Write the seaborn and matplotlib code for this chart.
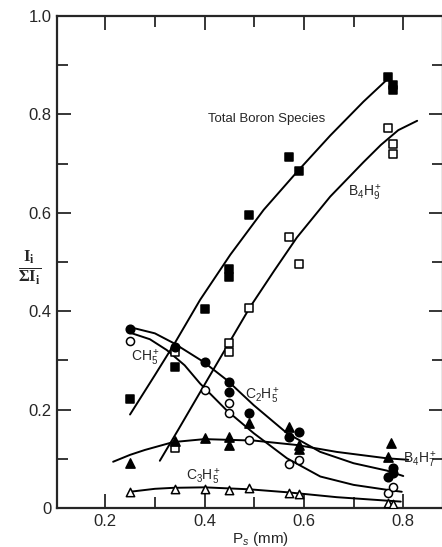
import matplotlib
matplotlib.use("Agg")
import matplotlib.pyplot as plt
import seaborn as sns
from matplotlib.ticker import FixedLocator

# ---- measured points ----
total_x = [0.25, 0.34, 0.40, 0.45, 0.45, 0.49, 0.57, 0.59, 0.77, 0.78, 0.78]
total_y = [0.222, 0.287, 0.404, 0.47, 0.485, 0.596, 0.714, 0.685, 0.876, 0.86, 0.85]

b4h9_x = [0.34, 0.34, 0.45, 0.45, 0.49, 0.57, 0.59, 0.77, 0.78, 0.78]
b4h9_y = [0.122, 0.317, 0.335, 0.317, 0.406, 0.551, 0.496, 0.773, 0.74, 0.72]

ch5_x = [0.25, 0.40, 0.45, 0.45, 0.49, 0.57, 0.59, 0.77, 0.78]
ch5_y = [0.34, 0.24, 0.213, 0.193, 0.138, 0.089, 0.098, 0.03, 0.043]

c2h5_x = [0.25, 0.34, 0.40, 0.45, 0.45, 0.49, 0.57, 0.59, 0.77, 0.78, 0.78]
c2h5_y = [0.364, 0.327, 0.296, 0.256, 0.236, 0.193, 0.144, 0.155, 0.063, 0.081, 0.071]

b4h7_x = [0.25, 0.34, 0.40, 0.45, 0.45, 0.49, 0.57, 0.59, 0.59, 0.77, 0.775]
b4h7_y = [0.091, 0.136, 0.142, 0.144, 0.128, 0.173, 0.165, 0.12, 0.128, 0.104, 0.132]

c3h5_x = [0.25, 0.34, 0.40, 0.45, 0.49, 0.57, 0.59, 0.77, 0.78]
c3h5_y = [0.033, 0.039, 0.039, 0.037, 0.041, 0.031, 0.028, 0.01, 0.008]

# ---- hand-drawn fit curves ----
total_cx = [0.25, 0.30, 0.34, 0.391, 0.452, 0.519, 0.586, 0.653, 0.72, 0.775]
total_cy = [0.19, 0.27, 0.335, 0.423, 0.515, 0.606, 0.683, 0.757, 0.826, 0.878]

b4h9_cx = [0.31, 0.347, 0.41, 0.492, 0.54, 0.586, 0.653, 0.72, 0.755, 0.79, 0.828]
b4h9_cy = [0.096, 0.159, 0.268, 0.409, 0.482, 0.55, 0.633, 0.703, 0.738, 0.768, 0.787]

ch5_cx = [0.254, 0.29, 0.324, 0.36, 0.391, 0.445, 0.499, 0.566, 0.633, 0.70, 0.767, 0.797]
ch5_cy = [0.355, 0.343, 0.321, 0.29, 0.253, 0.198, 0.152, 0.101, 0.064, 0.047, 0.037, 0.033]

c2h5_cx = [0.256, 0.30, 0.338, 0.398, 0.445, 0.499, 0.566, 0.633, 0.70, 0.767, 0.80]
c2h5_cy = [0.366, 0.355, 0.335, 0.297, 0.26, 0.209, 0.152, 0.114, 0.091, 0.076, 0.065]

b4h7_cx = [0.216, 0.25, 0.28, 0.337, 0.40, 0.50, 0.586, 0.666, 0.767, 0.81]
b4h7_cy = [0.094, 0.108, 0.118, 0.134, 0.14, 0.137, 0.128, 0.114, 0.101, 0.098]

c3h5_cx = [0.25, 0.30, 0.337, 0.40, 0.49, 0.566, 0.666, 0.795]
c3h5_cy = [0.033, 0.039, 0.041, 0.042, 0.038, 0.032, 0.022, 0.013]

labels = ["Total Boron Species", r"B$_4$H$_9^+$", r"CH$_5^+$",
          r"C$_2$H$_5^+$", r"B$_4$H$_7^+$", r"C$_3$H$_5^+$"]

x_ticks = [0.2, 0.4, 0.6, 0.8]
y_ticks = [0.0, 0.2, 0.4, 0.6, 0.8, 1.0]
y_tick_labels = ["0", "0.2", "0.4", "0.6", "0.8", "1.0"]

sns.set_style("ticks")
plt.rcParams["font.family"] = ["Liberation Sans", "DejaVu Sans"]
plt.rcParams["mathtext.fontset"] = "custom"
plt.rcParams["mathtext.rm"] = "Liberation Sans"
plt.rcParams["mathtext.it"] = "Liberation Sans:italic"
plt.rcParams["mathtext.bf"] = "Liberation Serif:bold"

fig = plt.figure(figsize=(4.42, 5.47), dpi=100)
ax = fig.add_axes([57 / 442, 39 / 547, 386 / 442, 492 / 547])

# curves
for cx, cy in [(total_cx, total_cy), (b4h9_cx, b4h9_cy), (ch5_cx, ch5_cy),
               (c2h5_cx, c2h5_cy), (b4h7_cx, b4h7_cy), (c3h5_cx, c3h5_cy)]:
    sns.lineplot(x=cx, y=cy, sort=False, color="black", lw=1.4, ax=ax)

# markers: (x, y, marker, filled, size)
series = [
    (total_x, total_y, "s", True, 36),
    (b4h9_x, b4h9_y, "s", False, 32),
    (ch5_x, ch5_y, "o", False, 34),
    (c2h5_x, c2h5_y, "o", True, 38),
    (b4h7_x, b4h7_y, "^", True, 44),
    (c3h5_x, c3h5_y, "^", False, 36),
]
for sx, sy, mk, filled, sz in series:
    sns.scatterplot(x=sx, y=sy, marker=mk, s=sz,
                    color="black" if filled else "white",
                    edgecolor="black", linewidth=1.1, ax=ax, zorder=3)

# species labels
ax.text(0.407, 0.79, labels[0], fontsize=9.5, va="center", ha="left")
ax.text(0.689, 0.64, labels[1], fontsize=10, va="center", ha="left")
ax.text(0.252, 0.305, labels[2], fontsize=10, va="center", ha="left")
ax.text(0.482, 0.228, labels[3], fontsize=10, va="center", ha="left")
ax.text(0.80, 0.098, labels[4], fontsize=10, va="center", ha="left")
ax.text(0.362, 0.062, labels[5], fontsize=10, va="center", ha="left")

ax.set_xlim(0.103, 0.88)
ax.set_ylim(0, 1.0)
ax.xaxis.set_major_locator(FixedLocator(x_ticks))
ax.xaxis.set_minor_locator(FixedLocator([0.3, 0.5, 0.7]))
ax.yaxis.set_major_locator(FixedLocator(y_ticks))
ax.yaxis.set_minor_locator(FixedLocator([0.1, 0.3, 0.5, 0.7, 0.9]))
ax.set_xticklabels([f"{v:.1f}" for v in x_ticks])
ax.set_yticklabels(y_tick_labels)
ax.tick_params(which="major", direction="in", length=10, width=1.3,
               top=True, right=True, labelsize=12, pad=4)
ax.tick_params(which="minor", direction="in", length=8, width=1.3,
               top=True, right=True)
for sp in ax.spines.values():
    sp.set_linewidth(1.6)

ax.set_xlabel(r"P$_s$ (mm)", fontsize=11)
ax.xaxis.set_label_coords(0.526, -0.045)
ax.set_ylabel(r"$\frac{\mathbf{I}_\mathbf{i}}{\mathbf{\Sigma I}_\mathbf{i}}$",
              fontsize=17, rotation=0)
ax.yaxis.set_label_coords(-0.07, 0.45)

fig.savefig("out.png", dpi=100)
